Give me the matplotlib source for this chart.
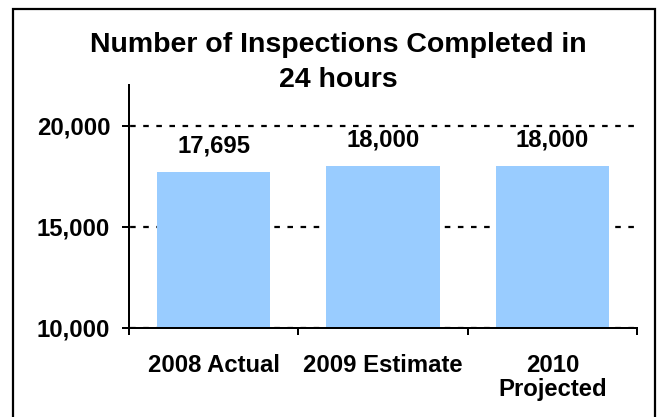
from matplotlib import pyplot as plt
from matplotlib.patches import Rectangle
from matplotlib.ticker import FuncFormatter
import numpy as np

categories = ['2008 Actual', '2009 Estimate', '2010\nProjected']
inspections = [17695, 18000, 18000]
value_labels = ['17,695', '18,000', '18,000']
y_ticks = [10000, 15000, 20000]

plt.rcParams['font.family'] = ['Liberation Sans', 'DejaVu Sans']
plt.rcParams['font.weight'] = 'bold'

fig = plt.figure(figsize=(6.65, 4.17), dpi=100)
ax = fig.add_axes([129 / 665, 1 - 328 / 417, (637 - 129) / 665, (328 - 85) / 417])

x = np.arange(len(categories))
ax.bar(x, np.array(inspections) - 10000, bottom=10000, width=0.67,
       color='#99CCFF', zorder=2)

for xi, v, lab in zip(x, inspections, value_labels):
    ax.text(xi, v + 960, lab, ha='center', va='baseline', fontsize=17.2,
            fontweight='bold', zorder=3)

ax.set_ylim(10000, 22000)
ax.set_xlim(-0.5, 2.5)
ax.set_yticks(y_ticks)
ax.yaxis.set_major_formatter(FuncFormatter(lambda v, p: f'{int(v):,}'))
ax.set_xticks(x)
ax.set_xticklabels(categories, fontsize=17.2, fontweight='bold')
for lab in ax.get_xticklabels():
    lab.set_linespacing(1.05)
ax.set_xticks([-0.5, 0.5, 1.5, 2.5], minor=True)
ax.tick_params(axis='x', which='major', length=0, pad=19)
ax.tick_params(axis='x', which='minor', length=5, width=1.44, direction='out')
ax.tick_params(axis='y', length=5, width=1.44, direction='out', labelsize=17.2, pad=8.5)
for lab in ax.get_yticklabels():
    lab.set_fontweight('bold')

ax.grid(axis='y', color='black', linestyle=(5.4, (2.5, 3.4)), linewidth=1.6, zorder=1)
ax.set_axisbelow(True)
for s in ['top', 'right']:
    ax.spines[s].set_visible(False)
for s in ['left', 'bottom']:
    ax.spines[s].set_linewidth(1.44)
ax.spines['bottom'].set_zorder(4)

fig.text(338 / 665, 1 - 52 / 417, 'Number of Inspections Completed in',
         ha='center', va='baseline', fontsize=20.5, fontweight='bold')
fig.text(338 / 665, 1 - 87 / 417, '24 hours',
         ha='center', va='baseline', fontsize=20.5, fontweight='bold')

fig.patches.append(Rectangle((13 / 665, -0.1), (655 - 13) / 665, 1.1 - 9 / 417,
                             transform=fig.transFigure, fill=False,
                             edgecolor='black', linewidth=1.6, clip_on=False))

fig.savefig('out.png', dpi=100)
